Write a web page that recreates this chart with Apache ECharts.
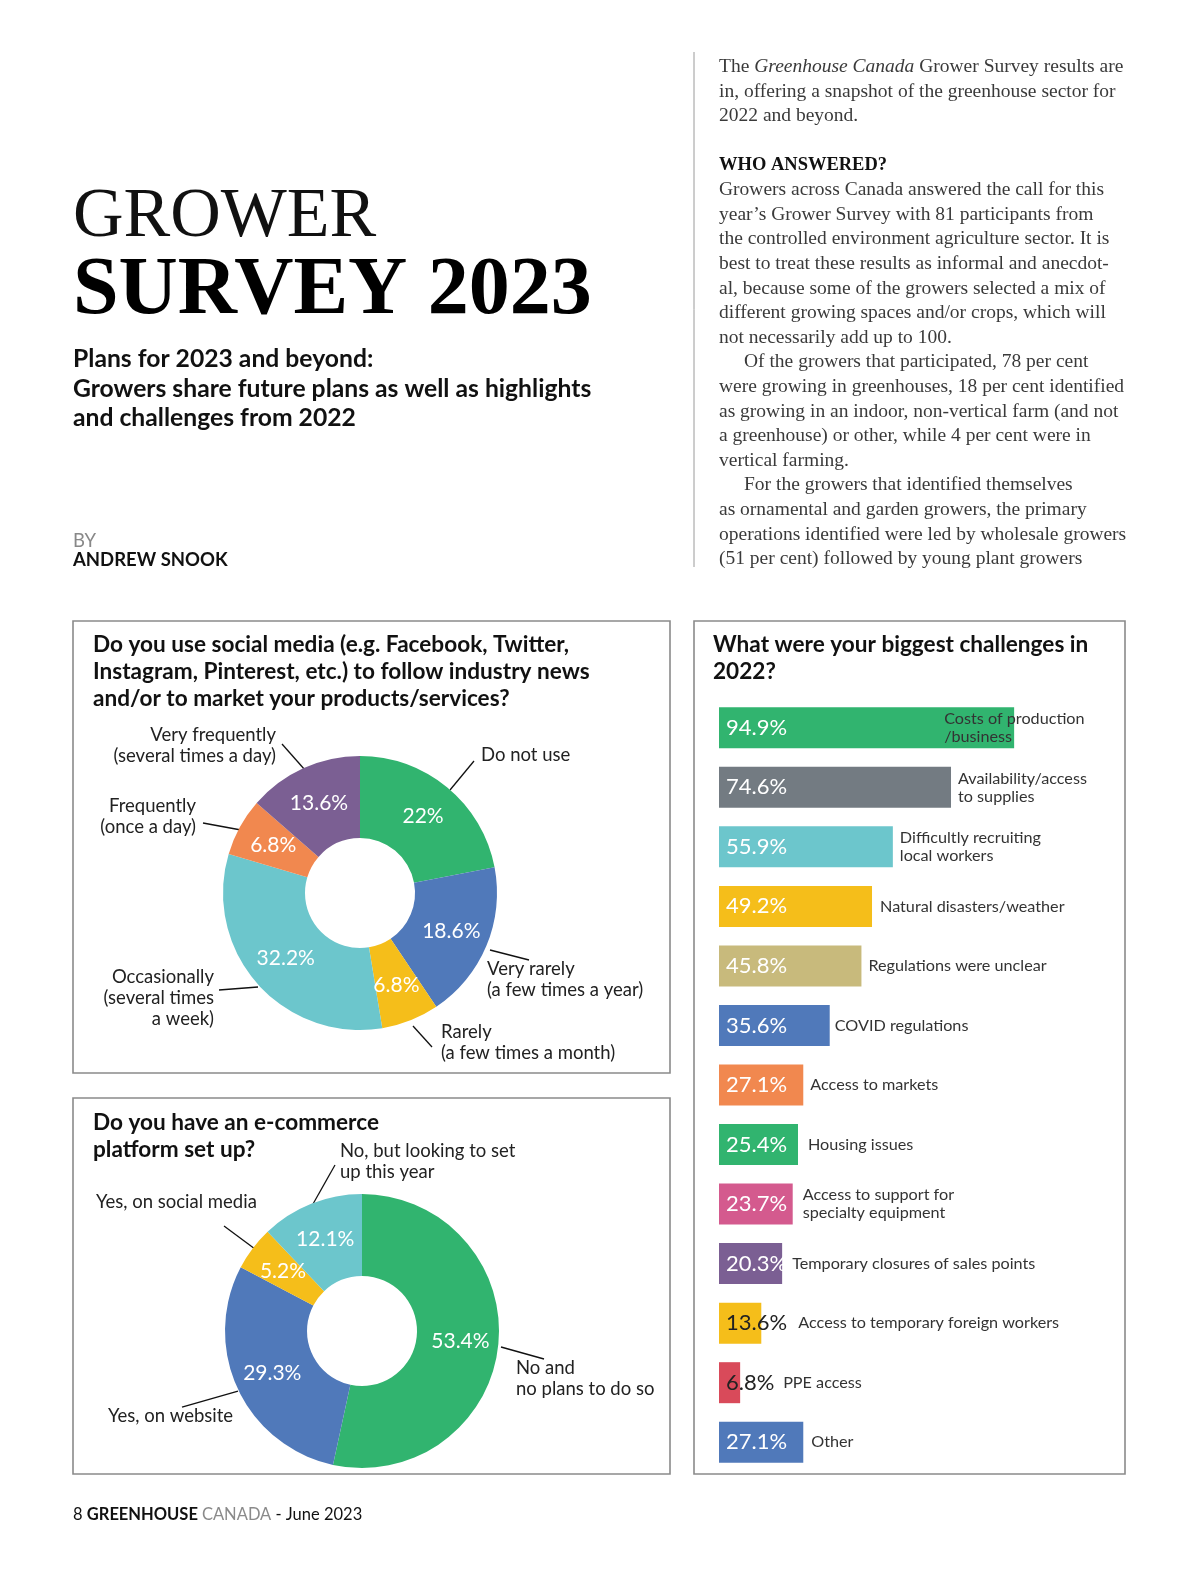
<!DOCTYPE html>
<html><head><meta charset="utf-8">
<script src="https://cdn.jsdelivr.net/npm/echarts@6/dist/echarts.min.js"></script>
<style>html,body{margin:0;padding:0;background:#fff}#c{width:1200px;height:1573px}</style>
</head><body><div id="c"></div>
<script>
// ---------- DATA ----------
const socialNames = ['Do not use', 'Very rarely\n(a few times a year)', 'Rarely\n(a few times a month)', 'Occasionally\n(several times\na week)', 'Frequently\n(once a day)', 'Very frequently\n(several times a day)'];
const socialValues = [22, 18.6, 6.8, 32.2, 6.8, 13.6];
const ecomNames = ['No and\nno plans to do so', 'Yes, on website', 'Yes, on social media', 'No, but looking to set\nup this year'];
const ecomValues = [53.4, 29.3, 5.2, 12.1];
const challengeNames = ['Costs of production\n/business', 'Availability/access\nto supplies', 'Difficultly recruiting\nlocal workers', 'Natural disasters/weather', 'Regulations were unclear', 'COVID regulations', 'Access to markets', 'Housing issues', 'Access to support for\nspecialty equipment', 'Temporary closures of sales points', 'Access to temporary foreign workers', 'PPE access', 'Other'];
const challengeValues = [94.9, 74.6, 55.9, 49.2, 45.8, 35.6, 27.1, 25.4, 23.7, 20.3, 13.6, 6.8, 27.1];

// ---------- STYLES / LAYOUT ----------
const socialColors = ['#31b46f', '#5079ba', '#f5be1a', '#6cc6cc', '#f1884f', '#7b5f93'];
const ecomColors = ['#31b46f', '#5079ba', '#f5be1a', '#6cc6cc'];
const barColors = ['#31b46f', '#737b82', '#6cc6cc', '#f5be1a', '#c8ba7c', '#5079ba', '#f1884f', '#31b46f', '#d45a8e', '#7b5f93', '#f5be1a', '#d94a5a', '#5079ba'];
const barValueDark = [false, false, false, false, false, false, false, false, false, false, true, true, false];
const barNameGap = [-70, 7, 7, 8, 7, 5, 7, 10, 10, 10, 37, 43, 8];
// annotation label anchors: [x, top, align] and leader lines [[x1,y1],[x2,y2]]
const socialLabelPos = [[481, 745, 'left'], [487, 959, 'left'], [441, 1022, 'left'], [214, 967, 'right'], [196, 796, 'right'], [276, 725, 'right']];
const socialLeaders = [[[450, 790], [474, 761]], [[490, 950], [529, 960]], [[413, 1026], [432, 1047]], [[258, 987], [219, 990]], [[241, 830], [203, 823]], [[305, 770], [282, 744]]];
const ecomLabelPos = [[516, 1358, 'left'], [108, 1406, 'left'], [96, 1192, 'left'], [340, 1141, 'left']];
const ecomLeaders = [[[501, 1347], [544, 1359]], [[238, 1391], [182, 1407]], [[255, 1249], [224, 1226]], [[313, 1204], [335, 1165]]];

const SANS = 'Lato, "Noto Sans", sans-serif';
const SERIF = '"Liberation Serif", "DejaVu Serif", serif';
const chart = echarts.init(document.getElementById('c'), null, {renderer: 'canvas'});

function txt(x, y, text, font, fill, align) {
  return {type: 'text', x: x, y: y, silent: true,
    style: {text: text, font: font, fill: fill || '#111', align: align || 'left', verticalAlign: 'middle'}};
}
function rect(x, y, w, h) {
  return {type: 'rect', shape: {x: x, y: y, width: w, height: h}, silent: true, z: -1,
    style: {fill: 'none', stroke: '#8a8a8a', lineWidth: 1.6}};
}

const bodyLines = [
  ['The ', 'Greenhouse Canada', ' Grower Survey results are'],
  'in, offering a snapshot of the greenhouse sector for',
  '2022 and beyond.',
  null,
  'WHO ANSWERED?',
  'Growers across Canada answered the call for this',
  'year\u2019s Grower Survey with 81 participants from',
  'the controlled environment agriculture sector. It is',
  'best to treat these results as informal and anecdot-',
  'al, because some of the growers selected a mix of',
  'different growing spaces and/or crops, which will',
  'not necessarily add up to 100.',
  '\tOf the growers that participated, 78 per cent',
  'were growing in greenhouses, 18 per cent identified',
  'as growing in an indoor, non-vertical farm (and not',
  'a greenhouse) or other, while 4 per cent were in',
  'vertical farming.',
  '\tFor the growers that identified themselves',
  'as ornamental and garden growers, the primary',
  'operations identified were led by wholesale growers',
  '(51 per cent) followed by young plant growers'
];
const bodyFont = '19.5px ' + SERIF;
const bodyColor = '#3a3a3a';
const graphics = [];
bodyLines.forEach(function (l, i) {
  if (l === null) return;
  const y = 67 + i * 24.6;
  if (Array.isArray(l)) {
    graphics.push({type: 'text', x: 719, y: y, silent: true, style: {
      text: '{a|' + l[0] + '}{i|' + l[1] + '}{a|' + l[2] + '}', verticalAlign: 'middle',
      rich: {a: {font: bodyFont, fill: bodyColor}, i: {font: 'italic ' + bodyFont, fill: bodyColor}}}});
  } else if (l === 'WHO ANSWERED?') {
    graphics.push(txt(719, y, l, 'bold 18.5px ' + SERIF, '#111'));
  } else if (l.charAt(0) === '\t') {
    graphics.push(txt(744, y, l.slice(1), bodyFont, bodyColor));
  } else {
    graphics.push(txt(719, y, l, bodyFont, bodyColor));
  }
});

const titleFont = 'bold 22.6px ' + SANS;
graphics.push(
  {type: 'line', shape: {x1: 694, y1: 52, x2: 694, y2: 567}, silent: true, style: {stroke: '#9a9a9a', lineWidth: 1}},
  txt(73, 218, 'GROWER', '70px ' + SERIF, '#111'),
  txt(73, 292, 'SURVEY 2023', 'bold 82px ' + SERIF, '#000'),
  txt(73, 359, 'Plans for 2023 and beyond:', 'bold 24.7px ' + SANS, '#111'),
  txt(73, 389, 'Growers share future plans as well as highlights', 'bold 24.7px ' + SANS, '#111'),
  txt(73, 418, 'and challenges from 2022', 'bold 24.7px ' + SANS, '#111'),
  txt(73, 541, 'BY', '18.5px ' + SANS, '#888'),
  txt(73, 560, 'ANDREW SNOOK', 'bold 18.5px ' + SANS, '#111'),
  rect(73, 621, 597, 452),
  rect(73, 1098, 597, 376),
  rect(694, 621, 431, 853),
  txt(93, 645, 'Do you use social media (e.g. Facebook, Twitter,', titleFont, '#111'),
  txt(93, 672, 'Instagram, Pinterest, etc.) to follow industry news', titleFont, '#111'),
  txt(93, 699, 'and/or to market your products/services?', titleFont, '#111'),
  txt(93, 1123, 'Do you have an e-commerce', titleFont, '#111'),
  txt(93, 1150, 'platform set up?', titleFont, '#111'),
  txt(713, 645, 'What were your biggest challenges in', titleFont, '#111'),
  txt(713, 672, '2022?', titleFont, '#111'),
  {type: 'text', x: 73, y: 1515, silent: true, style: {
    text: '{n|8 }{b|GREENHOUSE }{g|CANADA}{n| - June 2023}', verticalAlign: 'middle',
    rich: {n: {font: '16.5px ' + SANS, fill: '#111'}, b: {font: 'bold 16.5px ' + SANS, fill: '#111'}, g: {font: '16.5px ' + SANS, fill: '#8a8a8a'}}}}
);

function pieLayout(posArr, leaders) {
  return function (params) {
    const p = posArr[params.dataIndex];
    return {x: p[0], y: p[1], align: p[2], verticalAlign: 'top', labelLinePoints: leaders[params.dataIndex]};
  };
}

function pieSeries(names, values, colors, center, posArr, leaders) {
  const data = names.map(function (n, i) { return {name: n, value: values[i], itemStyle: {color: colors[i]}}; });
  return [
    {type: 'pie', center: center, radius: [55, 137], startAngle: 90, clockwise: true, silent: true,
     avoidLabelOverlap: false, data: data,
     itemStyle: {borderWidth: 0},
     label: {show: true, position: 'inside', formatter: function (p) { return p.value + '%'; },
       color: '#fff', fontFamily: SANS, fontSize: 21},
     labelLine: {show: false}},
    {type: 'pie', center: center, radius: [55, 137], startAngle: 90, clockwise: true, silent: true,
     avoidLabelOverlap: false,
     data: names.map(function (n, i) { return {name: n, value: values[i]}; }),
     itemStyle: {color: 'rgba(0,0,0,0)', borderWidth: 0},
     label: {show: true, position: 'outside', formatter: '{b}', color: '#222', fontFamily: SANS, fontSize: 18.5, lineHeight: 21},
     labelLine: {show: true, length: 8, length2: 0, smooth: false, lineStyle: {color: '#111', width: 1.3}},
     labelLayout: pieLayout(posArr, leaders)}
  ];
}

const option = {
  backgroundColor: '#fff',
  animation: false,
  grid: {left: 719, right: 170, top: 698, bottom: 101, containLabel: false},
  xAxis: {type: 'value', min: 0, max: 100, show: false},
  yAxis: {type: 'category', inverse: true, data: challengeNames, show: false},
  series: [
    {type: 'bar', barWidth: 41, silent: true,
     data: challengeValues.map(function (v, i) {
       return {value: v, itemStyle: {color: barColors[i]},
         label: {color: barValueDark[i] ? '#222' : '#fff'}};
     }),
     label: {show: true, position: 'insideLeft', distance: 7, formatter: '{c}%', fontFamily: SANS, fontSize: 22}},
    {type: 'bar', barWidth: 41, barGap: '-100%', silent: true,
     data: challengeValues.map(function (v, i) {
       return {value: v, label: {distance: barNameGap[i]}};
     }),
     itemStyle: {color: 'rgba(0,0,0,0)'},
     label: {show: true, position: 'right', formatter: function (p) { return challengeNames[p.dataIndex]; },
       color: '#333', fontFamily: SANS, fontSize: 16.2, lineHeight: 18, align: 'left'}}
  ].concat(pieSeries(socialNames, socialValues, socialColors, [360, 893], socialLabelPos, socialLeaders))
   .concat(pieSeries(ecomNames, ecomValues, ecomColors, [362, 1331], ecomLabelPos, ecomLeaders)),
  graphic: graphics
};
chart.setOption(option);
</script>
</body></html>
